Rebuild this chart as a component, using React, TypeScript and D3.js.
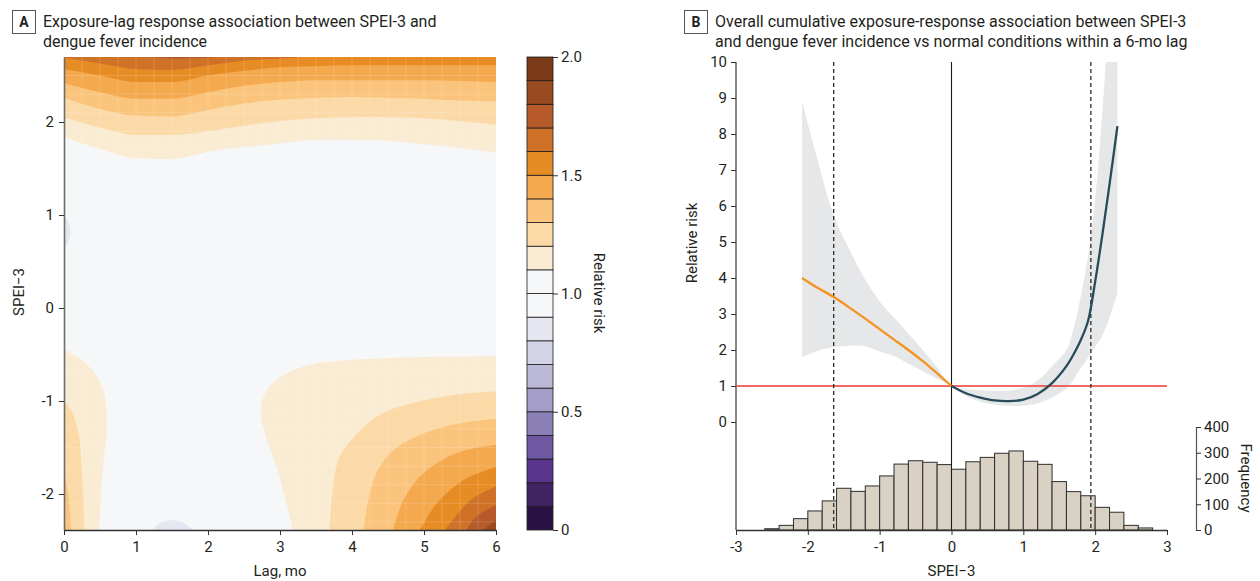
import * as d3 from 'd3';
import React, { useEffect, useRef } from 'react';

const FONT = 'Roboto, "Open Sans", sans-serif';
const TEXT = '#231f20';

// ---------- Panel A: exposure-lag surface ----------
const lagTicks = [0, 1, 2, 3, 4, 5, 6];
const speiTicksA = [-2, -1, 0, 1, 2];
const speiExtentA = [-2.387, 2.699];
const riskTicks = [0, 0.5, 1.0, 1.5, 2.0];

// relative-risk bands of 0.1, lowest first
const bandBreaks = [0, 0.1, 0.2, 0.3, 0.4, 0.5, 0.6, 0.7, 0.8, 0.9, 1.0, 1.1, 1.2, 1.3, 1.4, 1.5, 1.6, 1.7, 1.8, 1.9, 2.0];
const bandColors = [
    '#2b1244', '#412262', '#5a348c', '#6f57a1', '#8a80b6', '#a49dc8', '#bbb8d8', '#d3d3e7', '#e6e6f0', '#f6f7f9',
    '#f6f7f9', '#faebd3', '#fcdaa8', '#fbc47c', '#f4a94f', '#e68c25', '#cf7228', '#b55a28', '#9a4a20', '#7a3a18'
];

// upper (wet) contours: SPEI of each level at these lags
const topLags = [0, 0.5, 1, 1.5, 2, 2.5, 3, 3.5, 4, 4.5, 5, 5.5, 6];
const topLevels = [1.1, 1.2, 1.3, 1.4, 1.5, 1.6, 1.7];
const topSpei = [
    [1.84, 1.71, 1.61, 1.60, 1.68, 1.73, 1.77, 1.81, 1.81, 1.80, 1.76, 1.72, 1.67],
    [2.05, 1.94, 1.86, 1.86, 1.90, 1.96, 2.01, 2.04, 2.05, 2.05, 2.04, 2.01, 1.97],
    [2.26, 2.14, 2.07, 2.06, 2.13, 2.20, 2.24, 2.26, 2.27, 2.26, 2.25, 2.23, 2.22],
    [2.42, 2.32, 2.25, 2.25, 2.32, 2.39, 2.43, 2.45, 2.45, 2.45, 2.45, 2.44, 2.43],
    [2.57, 2.50, 2.43, 2.43, 2.50, 2.55, 2.59, 2.60, 2.61, 2.61, 2.61, 2.61, 2.61],
    [2.69, 2.63, 2.57, 2.56, 2.61, 2.66, 2.68, 2.71, 2.73, 2.74, 2.75, 2.75, 2.75],
    [2.80, 2.76, 2.72, 2.68, 2.69, 2.75, 2.80, 2.85, 2.85, 2.85, 2.85, 2.85, 2.85]
];

// dry contours at short lag: [lag, SPEI]
const lowLeftLevels = [1.1, 1.2, 1.3];
const lowLeft = [
    [[0, -0.44], [0.28, -0.58], [0.46, -0.74], [0.56, -0.92], [0.59, -1.13], [0.59, -1.35], [0.55, -1.63], [0.51, -2.07], [0.49, -2.39]],
    [[0, -0.99], [0.12, -1.13], [0.2, -1.35], [0.24, -1.63], [0.27, -2.07], [0.28, -2.39]],
    [[0, -1.74], [0.056, -1.99], [0.1, -2.39]]
];

// dry contours at long lag: [lag, SPEI]
const lowRightLevels = [1.1, 1.2, 1.3, 1.4, 1.5, 1.6, 1.7, 1.8];
const lowRight = [
    [[6, -0.52], [4.9, -0.53], [3.97, -0.56], [3.42, -0.61], [3.05, -0.72], [2.82, -0.88], [2.73, -1.1], [2.79, -1.35], [2.95, -1.71], [3.08, -2.07], [3.18, -2.39]],
    [[6, -0.89], [5.36, -0.94], [4.9, -1.01], [4.43, -1.13], [4.07, -1.35], [3.83, -1.6], [3.74, -1.89], [3.69, -2.39]],
    [[6, -1.19], [5.36, -1.26], [4.9, -1.38], [4.53, -1.56], [4.3, -1.85], [4.16, -2.39]],
    [[6, -1.47], [5.45, -1.56], [4.99, -1.78], [4.71, -2.07], [4.57, -2.39]],
    [[6, -1.71], [5.55, -1.85], [5.18, -2.1], [4.94, -2.39]],
    [[6, -1.92], [5.64, -2.07], [5.29, -2.39]],
    [[6, -2.12], [5.73, -2.24], [5.59, -2.39]],
    [[6, -2.28], [5.82, -2.39]]
];

// small pockets below 0.9
const lowPockets = [
    [[0, 0.98], [0.05, 0.945], [0.09, 0.82], [0.05, 0.69], [0, 0.65]],
    [[1.22, -2.39], [1.32, -2.32], [1.5, -2.28], [1.68, -2.32], [1.79, -2.39]]
];

// ---------- Panel B: cumulative exposure-response ----------
const speiTicksB = [-3, -2, -1, 0, 1, 2, 3];
const rrTicks = [0, 1, 2, 3, 4, 5, 6, 7, 8, 9, 10];
const freqTicks = [0, 100, 200, 300, 400];
const cutoffs = [-1.64, 1.94];

const curveSpei = [-2.08, -1.9, -1.64, -1.4, -1.2, -1.0, -0.8, -0.6, -0.4, -0.2, 0, 0.2, 0.4, 0.6, 0.8, 1.0, 1.2, 1.4, 1.6, 1.7, 1.8, 1.9, 2.0, 2.1, 2.2, 2.31];
const curveRR = [4.0, 3.77, 3.47, 3.15, 2.87, 2.58, 2.29, 2.0, 1.69, 1.35, 1.0, 0.8, 0.68, 0.6, 0.58, 0.62, 0.78, 1.08, 1.55, 1.88, 2.28, 2.8, 3.9, 5.2, 6.6, 8.22];
const curveLow = [1.8, 1.95, 2.08, 2.12, 2.1, 1.96, 1.83, 1.62, 1.42, 1.2, 1.0, 0.72, 0.56, 0.48, 0.45, 0.45, 0.52, 0.68, 0.93, 1.18, 1.5, 1.78, 2.08, 2.4, 2.9, 3.58];
const curveHigh = [8.9, 7.55, 5.75, 4.7, 3.95, 3.35, 2.9, 2.45, 2.0, 1.52, 1.0, 0.92, 0.88, 0.86, 0.87, 0.95, 1.15, 1.55, 2.0, 2.6, 3.5, 4.6, 6.2, 8.6, 11.5, 14];

const binStart = [-2.6, -2.4, -2.2, -2.0, -1.8, -1.6, -1.4, -1.2, -1.0, -0.8, -0.6, -0.4, -0.2, 0, 0.2, 0.4, 0.6, 0.8, 1.0, 1.2, 1.4, 1.6, 1.8, 2.0, 2.2, 2.4, 2.6];
const binCount = [5, 18, 44, 74, 113, 162, 150, 171, 210, 256, 269, 263, 254, 236, 265, 282, 298, 307, 267, 255, 188, 149, 133, 88, 69, 18, 8];
const binWidth = 0.2;

const bandColor = (level) => bandColors[Math.round(level * 10)];

const styleAxis = (g, size = 14) => {
    g.selectAll('text').attr('font-family', FONT).attr('font-size', size).attr('fill', TEXT);
    g.selectAll('.tick line').attr('stroke', '#333');
};

const App = () => {
    const ref = useRef(null);

    useEffect(() => {
        const svg = d3.select(ref.current);
        svg.selectAll('*').remove();
        drawTitles(svg);
        drawPanelA(svg);
        drawPanelB(svg);
    }, []);

    const drawTitles = (svg) => {
        const titles = [
            { x: 12, label: 'A', lines: ['Exposure-lag response association between SPEI-3 and', 'dengue fever incidence'] },
            { x: 684, label: 'B', lines: ['Overall cumulative exposure-response association between SPEI-3', 'and dengue fever incidence vs normal conditions within a 6-mo lag'] }
        ];
        titles.forEach(t => {
            svg.append('rect').attr('x', t.x + 0.5).attr('y', 10.5).attr('width', 23).attr('height', 23)
                .attr('fill', 'none').attr('stroke', '#555').attr('stroke-width', 1);
            svg.append('text').attr('x', t.x + 12).attr('y', 27).attr('text-anchor', 'middle')
                .attr('font-family', FONT).attr('font-weight', 700).attr('font-size', 14).attr('fill', TEXT).text(t.label);
            t.lines.forEach((l, i) => {
                svg.append('text').attr('x', t.x + 31).attr('y', 27 + i * 20)
                    .attr('font-family', FONT).attr('font-size', 16).attr('fill', TEXT).text(l);
            });
        });
    };

    const drawPanelA = (svg) => {
        const x = d3.scaleLinear().domain([0, 6]).range([64, 496]);
        const y = d3.scaleLinear().domain(speiExtentA).range([530, 57]);
        const [x0, x1] = x.range();
        const [yb, yt] = y.range();

        svg.append('clipPath').attr('id', 'clipA')
            .append('rect').attr('x', x0).attr('y', yt).attr('width', x1 - x0).attr('height', yb - yt);
        const g = svg.append('g').attr('clip-path', 'url(#clipA)');

        g.append('rect').attr('x', x0).attr('y', yt).attr('width', x1 - x0).attr('height', yb - yt)
            .attr('fill', bandColor(0.9));

        const area = d3.area()
            .x((d, i) => x(topLags[i]))
            .y0(yt - 10)
            .y1(d => y(d))
            .curve(d3.curveMonotoneX);
        topSpei.forEach((row, k) => {
            g.append('path').attr('d', area(row)).attr('fill', bandColor(topLevels[k]));
        });

        const line = d3.line().x(d => x(d[0])).y(d => y(d[1])).curve(d3.curveCatmullRom.alpha(0.5));
        const [sBottom] = speiExtentA;

        lowLeft.forEach((pts, k) => {
            const d = line(pts) + `L${x(0) - 2},${y(sBottom) + 2}L${x(0) - 2},${y(pts[0][1])}Z`;
            g.append('path').attr('d', d).attr('fill', bandColor(lowLeftLevels[k]));
        });
        lowRight.forEach((pts, k) => {
            const d = line(pts) + `L${x(6) + 2},${y(sBottom) + 2}L${x(6) + 2},${y(pts[0][1])}Z`;
            g.append('path').attr('d', d).attr('fill', bandColor(lowRightLevels[k]));
        });
        lowPockets.forEach(pts => {
            g.append('path').attr('d', line(pts) + 'Z').attr('fill', bandColor(0.8));
        });

        // faint tiling seen on the rendered surface
        const grid = g.append('g').attr('stroke', '#fff').attr('stroke-opacity', 0.2).attr('stroke-width', 0.8);
        d3.range(0.25, 6, 0.25).forEach(l => {
            grid.append('line').attr('x1', x(l)).attr('x2', x(l)).attr('y1', yt).attr('y2', yb);
        });
        d3.range(-2.3, 2.7, 0.2).forEach(s => {
            grid.append('line').attr('x1', x0).attr('x2', x1).attr('y1', y(s)).attr('y2', y(s));
        });

        // axes
        const ax = svg.append('g').attr('transform', `translate(${x0},0)`)
            .call(d3.axisLeft(y).tickValues(speiTicksA).tickSize(5).tickPadding(5).tickSizeOuter(0).tickFormat(d => String(d)));
        ax.select('.domain').attr('stroke', '#6d6d6d').attr('stroke-width', 1.6);
        styleAxis(ax, 15);

        const bx = svg.append('g').attr('transform', `translate(0,${yb})`)
            .call(d3.axisBottom(x).tickValues(lagTicks).tickSize(5).tickPadding(6).tickSizeOuter(0).tickFormat(d => String(d)));
        bx.select('.domain').attr('stroke', '#333').attr('stroke-width', 1.6);
        styleAxis(bx, 15);

        svg.append('text').attr('x', (x0 + x1) / 2).attr('y', 576).attr('text-anchor', 'middle')
            .attr('font-family', FONT).attr('font-size', 15).attr('fill', TEXT).text('Lag, mo');
        svg.append('text').attr('transform', 'translate(24,292) rotate(-90)').attr('text-anchor', 'middle')
            .attr('font-family', FONT).attr('font-size', 15).attr('fill', TEXT).text('SPEI\u22123');

        // colour bar
        const cy = d3.scaleLinear().domain([0, 2]).range([530, 57]);
        const cb = svg.append('g');
        bandColors.forEach((c, i) => {
            cb.append('rect').attr('x', 527).attr('width', 26)
                .attr('y', cy(bandBreaks[i + 1])).attr('height', cy(bandBreaks[i]) - cy(bandBreaks[i + 1]))
                .attr('fill', c).attr('stroke', '#1c1c1c').attr('stroke-width', 0.8);
        });
        const ca = svg.append('g').attr('transform', 'translate(553,0)')
            .call(d3.axisRight(cy).tickValues(riskTicks).tickSize(5).tickPadding(3)
                .tickFormat(d => d === 0 ? '0' : d3.format('.1f')(d)));
        ca.select('.domain').remove();
        styleAxis(ca, 15);
        svg.append('text').attr('transform', 'translate(594,293) rotate(90)').attr('text-anchor', 'middle')
            .attr('font-family', FONT).attr('font-size', 15).attr('fill', TEXT).text('Relative risk');
    };

    const drawPanelB = (svg) => {
        const x = d3.scaleLinear().domain([-3, 3]).range([736, 1167]);
        const y = d3.scaleLinear().domain([0, 10]).range([422, 62]);
        const fy = d3.scaleLinear().domain([0, 400]).range([530, 427]);
        const base = 530;
        const top = y(10);

        // histogram of observed SPEI-3
        svg.append('g').selectAll('rect').data(binStart).enter().append('rect')
            .attr('x', d => x(d))
            .attr('width', d => x(d + binWidth) - x(d))
            .attr('y', (d, i) => fy(binCount[i]))
            .attr('height', (d, i) => base - fy(binCount[i]))
            .attr('fill', '#d9d1c4')
            .attr('stroke', '#2e2e2e')
            .attr('stroke-width', 1);

        svg.append('clipPath').attr('id', 'clipB')
            .append('rect').attr('x', x(-3)).attr('y', top).attr('width', x(3) - x(-3)).attr('height', base - top);

        const idx = d3.range(curveSpei.length);
        const band = d3.area()
            .x(i => x(curveSpei[i]))
            .y0(i => y(curveLow[i]))
            .y1(i => y(curveHigh[i]))
            .curve(d3.curveCatmullRom.alpha(0.5));
        svg.append('path').attr('clip-path', 'url(#clipB)').attr('d', band(idx)).attr('fill', '#e6e7e9');

        // reference lines
        svg.append('line').attr('x1', x(-3)).attr('x2', x(3)).attr('y1', y(1)).attr('y2', y(1))
            .attr('stroke', '#ee3a36').attr('stroke-width', 1.3);
        svg.append('line').attr('x1', x(0)).attr('x2', x(0)).attr('y1', top).attr('y2', base)
            .attr('stroke', '#1a1a1a').attr('stroke-width', 1.1);
        cutoffs.forEach(c => {
            svg.append('line').attr('x1', x(c)).attr('x2', x(c)).attr('y1', top).attr('y2', base)
                .attr('stroke', '#2a2a2a').attr('stroke-width', 1.3).attr('stroke-dasharray', '4,3');
        });

        const line = d3.line().x(i => x(curveSpei[i])).y(i => y(curveRR[i])).curve(d3.curveCatmullRom.alpha(0.5));
        const dry = idx.filter(i => curveSpei[i] <= 0);
        const wet = idx.filter(i => curveSpei[i] >= 0);
        svg.append('path').attr('d', line(dry)).attr('fill', 'none').attr('stroke', '#f4931f').attr('stroke-width', 2.3);
        svg.append('path').attr('d', line(wet)).attr('fill', 'none').attr('stroke', '#284b5a').attr('stroke-width', 2.3);

        // axes
        svg.append('line').attr('x1', x(-3)).attr('x2', x(-3)).attr('y1', top).attr('y2', base)
            .attr('stroke', '#7a7a7a').attr('stroke-width', 1.8);
        const ly = svg.append('g').attr('transform', `translate(${x(-3)},0)`)
            .call(d3.axisLeft(y).tickValues(rrTicks).tickSize(5).tickPadding(4));
        ly.select('.domain').remove();
        styleAxis(ly, 15);

        const lx = svg.append('g').attr('transform', `translate(0,${base})`)
            .call(d3.axisBottom(x).tickValues(speiTicksB).tickSize(5).tickPadding(6).tickSizeOuter(0).tickFormat(d => String(d)));
        lx.select('.domain').attr('stroke', '#333').attr('stroke-width', 1.5);
        styleAxis(lx, 15);

        const rf = svg.append('g').attr('transform', 'translate(1196,0)')
            .call(d3.axisRight(fy).tickValues(freqTicks).tickSize(5).tickPadding(3).tickSizeOuter(5));
        rf.select('.domain').attr('stroke', '#555').attr('stroke-width', 1.2);
        styleAxis(rf, 15);

        svg.append('text').attr('transform', 'translate(697,243) rotate(-90)').attr('text-anchor', 'middle')
            .attr('font-family', FONT).attr('font-size', 15).attr('fill', TEXT).text('Relative risk');
        svg.append('text').attr('x', x(0)).attr('y', 576).attr('text-anchor', 'middle')
            .attr('font-family', FONT).attr('font-size', 15).attr('fill', TEXT).text('SPEI\u22123');
        svg.append('text').attr('transform', 'translate(1241,478) rotate(90)').attr('text-anchor', 'middle')
            .attr('font-family', FONT).attr('font-size', 15).attr('fill', TEXT).text('Frequency');
    };

    return (
        <div style={{ position: 'absolute', left: 0, top: 0 }}>
            <svg ref={ref} width={1260} height={581} style={{ display: 'block', background: '#fff' }} />
        </div>
    );
};

export default App;
